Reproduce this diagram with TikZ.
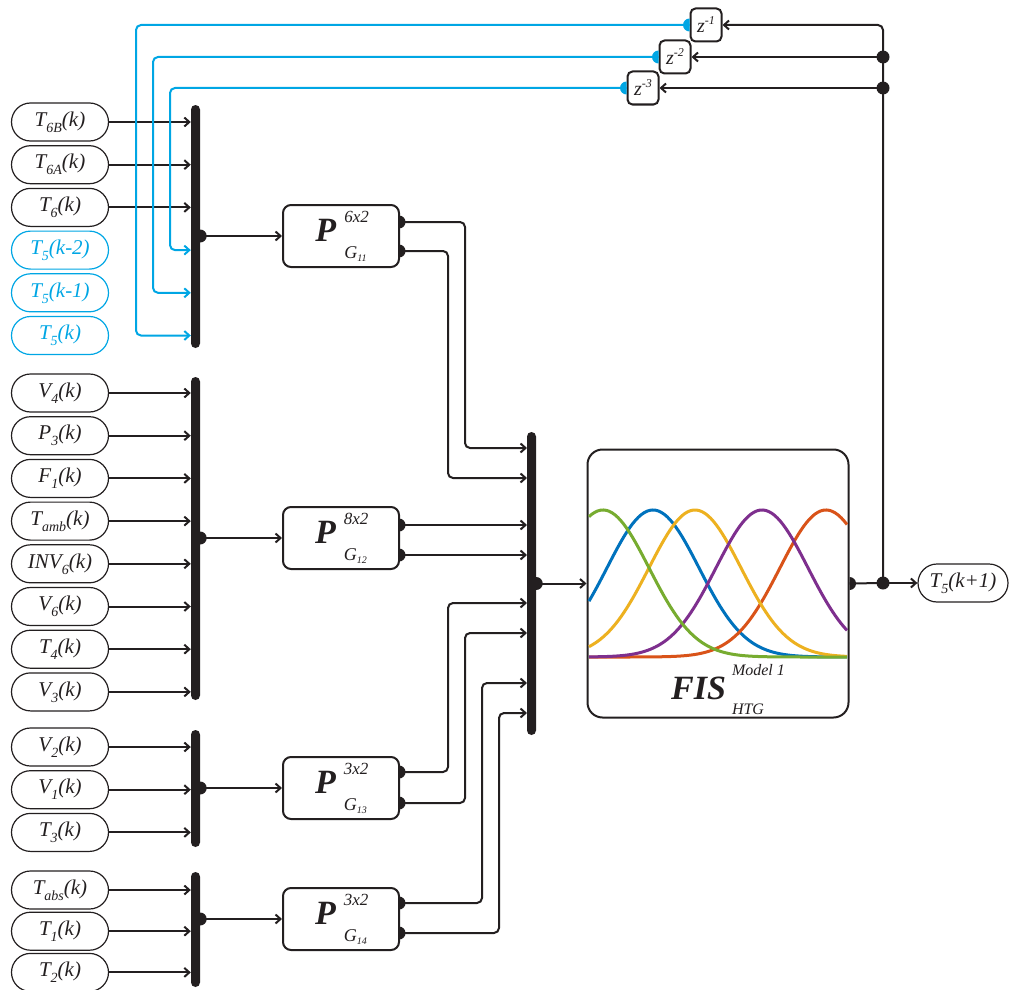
\documentclass[tikz,border=0pt]{standalone}
\usepackage{fontspec}
\setmainfont{Liberation Serif}
\usetikzlibrary{arrows.meta,positioning,shapes.misc}

\definecolor{ink}{RGB}{35,31,32}
\definecolor{fbblue}{RGB}{0,166,228}
\definecolor{mfblue}{RGB}{0,114,189}
\definecolor{mforange}{RGB}{217,83,25}
\definecolor{mfyellow}{RGB}{237,177,32}
\definecolor{mfpurple}{RGB}{126,47,142}
\definecolor{mfgreen}{RGB}{119,172,48}

% signal label: symbol, index, argument
\newcommand{\inp}[3]{#1\raisebox{-6pt}{\fontsize{14}{14}\selectfont #2}(#3)}
% partition block label
\newcommand{\Pmat}[2]{{\fontsize{34}{34}\selectfont\bfseries P}\hspace{8pt}%
  \rlap{\raisebox{19pt}{\fontsize{17}{17}\selectfont #1}}%
  \raisebox{-17pt}{\fontsize{18}{18}\selectfont G\raisebox{-3pt}{\fontsize{10}{10}\selectfont #2}}}
\newcommand{\zdel}[1]{z\raisebox{8pt}{\fontsize{12}{12}\selectfont -#1}}
% half dot on the right / left of a port
\newcommand{\rdot}[2][ink]{\fill[#1] (#2) ++(0,6.5) arc[start angle=-90,end angle=90,radius=6.5pt] -- cycle;}
\newcommand{\ldot}[2][ink]{\fill[#1] (#2) ++(0,-6.5) arc[start angle=90,end angle=270,radius=6.5pt] -- cycle;}

\begin{document}
\begin{tikzpicture}[x=1pt, y=-1pt, color=ink, node distance=3.5pt,
    inbox/.style={draw, rounded rectangle, line width=1.2pt, minimum width=97pt, minimum height=38pt,
      inner sep=0pt, font=\fontsize{21}{24}\selectfont\itshape},
    fbbox/.style={inbox, draw=fbblue, text=fbblue},
    bar/.style={fill=ink, rounded corners=4.5pt, minimum width=9pt, inner sep=0pt},
    pblock/.style={draw, fill=white, rounded corners=8pt, line width=2pt, minimum width=116pt,
      minimum height=62pt, inner sep=0pt, font=\itshape},
    zblock/.style={draw, rounded corners=5pt, line width=2pt, minimum width=31pt, minimum height=33pt,
      inner sep=0pt, font=\fontsize{20}{22}\selectfont\itshape},
    wire/.style={line width=2pt, rounded corners=5pt},
    arr/.style={wire, -{Straight Barb[length=5pt,width=9pt]}},
    fbarr/.style={arr, draw=fbblue},
    gauss/.style={line width=3pt, domain=589:847, samples=90}]
  \useasboundingbox (0,0) rectangle (1010,990);

  % inputs, group 1
  \node[inbox] (t6b) at (60,122) {\inp{T}{6B}{k}};
  \node[inbox, below=of t6b] (t6a) {\inp{T}{6A}{k}};
  \node[inbox, below=of t6a] (t6) {\inp{T}{6}{k}};
  \node[fbbox, below=of t6] (t5b) {\inp{T}{5}{k-2}};
  \node[fbbox, below=of t5b] (t5a) {\inp{T}{5}{k-1}};
  \node[fbbox, below=of t5a] (t5) {\inp{T}{5}{k}};
  \node[bar, minimum height=243pt] (bar1) at (195.5,226.5) {};

  % inputs, group 2
  \node[inbox] (v4) at (60,393) {\inp{V}{4}{k}};
  \node[inbox, below=of v4] (p3) {\inp{P}{3}{k}};
  \node[inbox, below=of p3] (f1) {\inp{F}{1}{k}};
  \node[inbox, below=of f1] (tamb) {\inp{T}{amb}{k}};
  \node[inbox, below=of tamb] (inv6) {\inp{INV}{6}{k}};
  \node[inbox, below=of inv6] (v6) {\inp{V}{6}{k}};
  \node[inbox, below=of v6] (t4) {\inp{T}{4}{k}};
  \node[inbox, below=of t4] (v3) {\inp{V}{3}{k}};
  \node[bar, minimum height=323pt] (bar2) at (195.5,538.5) {};

  % inputs, group 3
  \node[inbox] (v2) at (60,747) {\inp{V}{2}{k}};
  \node[inbox, below=of v2] (v1) {\inp{V}{1}{k}};
  \node[inbox, below=of v1] (t3) {\inp{T}{3}{k}};
  \node[bar, minimum height=117pt] (bar3) at (195.5,788.5) {};

  % inputs, group 4
  \node[inbox] (tabs) at (60,890) {\inp{T}{abs}{k}};
  \node[inbox, below=2pt of tabs] (t1) {\inp{T}{1}{k}};
  \node[inbox, below=2pt of t1] (t2) {\inp{T}{2}{k}};
  \node[bar, minimum height=115pt] (bar4) at (195.5,929.5) {};

  \foreach \n in {t6b,t6a,t6} \draw[arr] (\n.east) -- (\n.east -| bar1.west);
  \foreach \n in {v4,p3,f1,tamb,inv6,v6,t4,v3} \draw[arr] (\n.east) -- (\n.east -| bar2.west);
  \foreach \n in {v2,v1,t3} \draw[arr] (\n.east) -- (\n.east -| bar3.west);
  \foreach \n in {tabs,t1,t2} \draw[arr] (\n.east) -- (\n.east -| bar4.west);

  % partition blocks
  \node[pblock] (p11) at (341,236) {\Pmat{6x2}{11}};
  \node[pblock] (p12) at (341,538) {\Pmat{8x2}{12}};
  \node[pblock] (p13) at (341,788) {\Pmat{3x2}{13}};
  \node[pblock] (p14) at (341,919) {\Pmat{3x2}{14}};
  \draw[arr] (bar1.east |- p11) -- (p11.west);
  \draw[arr] (bar2.east |- p12) -- (p12.west);
  \draw[arr] (bar3.east |- p13) -- (p13.west);
  \draw[arr] (bar4.east |- p14) -- (p14.west);
  \rdot{bar1.east |- p11} \rdot{bar2.east |- p12} \rdot{bar3.east |- p13} \rdot{bar4.east |- p14}

  % mux in front of the FIS
  \node[bar, minimum height=303pt] (mux) at (531.5,583.5) {};
  \coordinate (p11a) at (399,222); \coordinate (p11b) at (399,251);
  \coordinate (p12a) at (399,525); \coordinate (p12b) at (399,555);
  \coordinate (p13a) at (399,772); \coordinate (p13b) at (399,803);
  \coordinate (p14a) at (399,903); \coordinate (p14b) at (399,933);
  \coordinate (m1) at (527,448); \coordinate (m2) at (527,478);
  \coordinate (m3) at (527,525); \coordinate (m4) at (527,555);
  \coordinate (m5) at (527,603); \coordinate (m6) at (527,633);
  \coordinate (m7) at (527,683); \coordinate (m8) at (527,713);
  \draw[arr] (p11a) -- ++(66,0) |- (m1);
  \draw[arr] (p11b) -- ++(49,0) |- (m2);
  \draw[arr] (p12a) -- (m3);
  \draw[arr] (p12b) -- (m4);
  \draw[arr] (p13a) -- ++(49,0) |- (m5);
  \draw[arr] (p13b) -- ++(66,0) |- (m6);
  \draw[arr] (p14a) -- ++(83,0) |- (m7);
  \draw[arr] (p14b) -- ++(100,0) |- (m8);
  \foreach \c in {p11a,p11b,p12a,p12b,p13a,p13b,p14a,p14b} {\rdot{\c}}

  % fuzzy inference system
  \node[pblock, rounded corners=15pt, minimum width=261pt, minimum height=268pt] (fis) at (718,583.5) {};
  \draw[gauss, mfblue] plot (\x, {657-147*exp(-0.5*((\x-653)/46)^2)});
  \draw[gauss, mforange] plot (\x, {657-147*exp(-0.5*((\x-826)/46)^2)});
  \draw[gauss, mfyellow] plot (\x, {657-147*exp(-0.5*((\x-695)/46)^2)});
  \draw[gauss, mfpurple] plot (\x, {657-147*exp(-0.5*((\x-762)/46)^2)});
  \draw[gauss, mfgreen] plot (\x, {657-147*exp(-0.5*((\x-603)/46)^2)});
  \node[anchor=base west, inner sep=0pt, font=\itshape] (fistxt) at (671,699)
    {{\fontsize{34}{34}\selectfont\bfseries FIS}\hspace{6pt}\fontsize{16}{16}\selectfont
     \rlap{\raisebox{24pt}{Model 1}}\raisebox{-15pt}{HTG}};
  \draw[arr] (mux.east |- fis.west) -- (fis.west);
  \rdot{mux.east |- fis.west}

  % output and feedback
  \node[inbox, minimum width=90pt] (out) at (963,583) {\inp{T}{5}{k+1}};
  \coordinate (j) at (883,583);
  \coordinate (d2) at (883,57);
  \coordinate (d3) at (883,88);
  \node[zblock] (z1) at (706,25) {\zdel{1}};
  \node[zblock] (z2) at (675,57) {\zdel{2}};
  \node[zblock] (z3) at (643,88) {\zdel{3}};
  \draw[wire] (fis.east) -- (j);
  \draw[arr] (j) -- (out.west);
  \draw[arr] (j) |- (z1.east);
  \draw[arr] (d2) -- (z2.east);
  \draw[arr] (d3) -- (z3.east);
  \rdot{fis.east}
  \foreach \c in {j,d2,d3} \fill (\c) circle (6.5pt);

  \draw[fbarr] (z1.west) -- (136,25) |- (t5 -| bar1.west);
  \draw[fbarr] (z2.west) -- (153,57) |- (t5a -| bar1.west);
  \draw[fbarr] (z3.west) -- (170,88) |- (t5b -| bar1.west);
  \ldot[fbblue]{z1.west} \ldot[fbblue]{z2.west} \ldot[fbblue]{z3.west}
\end{tikzpicture}
\end{document}
